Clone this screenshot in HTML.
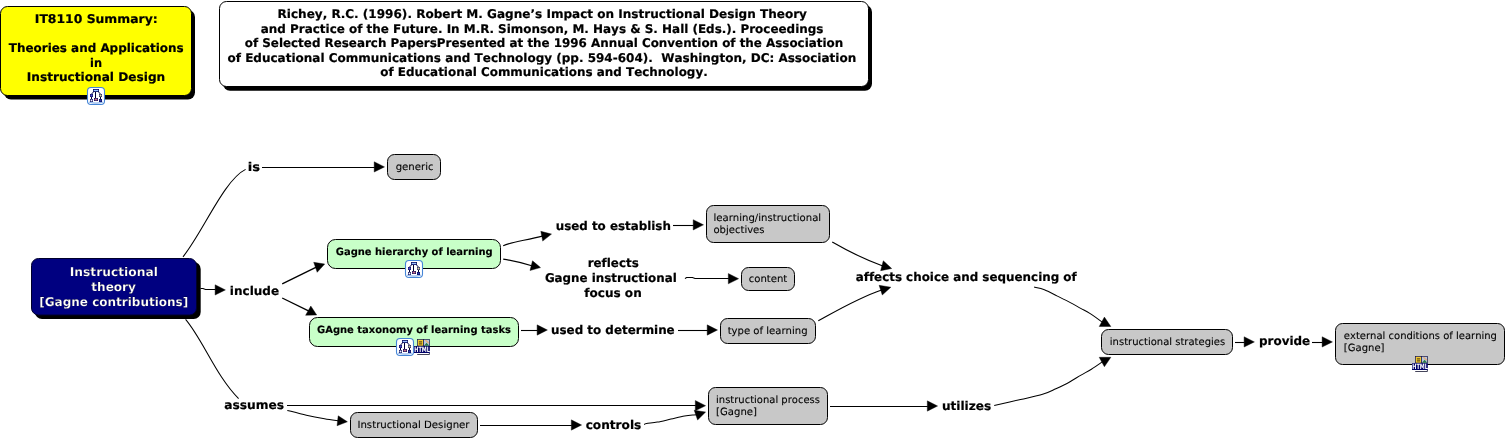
<!DOCTYPE html>
<html lang="en">
<head>
<meta charset="utf-8">
<title>IT8110 Summary: Theories and Applications in Instructional Design</title>
<style>
html,body{margin:0;padding:0;background:#fff;}
body{width:1506px;height:440px;overflow:hidden;}
svg{will-change:transform;display:block;position:absolute;left:0;top:0;}
text{text-rendering:geometricPrecision;font-family:"DejaVu Sans", "Liberation Sans", Verdana, sans-serif;white-space:pre;font-variant-ligatures:none;font-feature-settings:"liga" 0,"clig" 0;font-kerning:none;}
.b12{font-size:12px;font-weight:bold;stroke:#000;stroke-width:0.2px;}
.b10{font-size:10px;font-weight:bold;stroke:#000;stroke-width:0.15px;}
.r10{font-size:10px;font-weight:normal;stroke:#000;stroke-width:0.1px;}
.ic{font-size:7.2px;font-weight:bold;fill:#fff;}
.ln{fill:none;stroke:#000;stroke-width:1.05;}
.la{fill:none;stroke:#000;stroke-width:1.12;stroke-linejoin:round;}
.lb{fill:none;stroke:#000;stroke-width:1.35;stroke-linejoin:round;}
.hl{fill:none;stroke:#000;stroke-width:1.1;}
.ah{fill:#000;stroke:#000;stroke-width:0.4;stroke-linejoin:round;}
</style>
</head>
<body>
<svg width="1506" height="440" viewBox="0 0 1506 440">
<path d="M183,256.8 C203,232 224,180 245.6,169.4" class="ln"/>
<polygon points="384.50,166.90 374.20,161.75 374.20,172.05" class="ah"/>
<path d="M262.00,167.50 L374.70,167.50" class="hl"/>
<polygon points="225.40,289.90 215.10,284.75 215.10,295.05" class="ah"/>
<path d="M200.5,288.5 L203,288.5 L205.5,289.5 L215.60,289.50" class="hl"/>
<path d="M282.20,283.90 L316.84,266.81" class="lb"/>
<polygon points="324.70,264.00 313.70,262.30 317.20,272.30" class="ah"/>
<path d="M282.20,298.00 L309.48,311.30" class="lb"/>
<polygon points="316.70,315.00 310.80,306.00 305.60,315.30" class="ah"/>
<path d="M503.20,245.70 C511.00,242.00 525.00,240.50 543.21,235.86" class="la"/>
<polygon points="551.50,234.10 540.80,231.25 542.70,241.10" class="ah"/>
<path d="M503.20,259.10 C512.00,260.50 522.00,262.80 532.64,265.94" class="la"/>
<polygon points="540.50,267.60 532.50,260.80 530.00,270.50" class="ah"/>
<polygon points="703.50,224.85 693.20,219.70 693.20,230.00" class="ah"/>
<path d="M673.00,225.50 L693.70,225.50" class="hl"/>
<polygon points="738.60,278.70 728.30,273.55 728.30,283.85" class="ah"/>
<path d="M685,278.6 L686.5,277.5 L692.5,277.5 L695,278.5 L728.80,278.50" class="hl"/>
<polygon points="547.40,330.00 537.10,324.85 537.10,335.15" class="ah"/>
<path d="M521.00,330.50 L537.60,330.50" class="hl"/>
<polygon points="717.50,330.00 707.20,324.85 707.20,335.15" class="ah"/>
<path d="M678.00,330.50 L707.70,330.50" class="hl"/>
<path d="M832.25,242.10 C845.00,249.50 865.00,259.50 883.41,266.16" class="la"/>
<polygon points="891.70,268.50 883.30,260.80 880.60,270.70" class="ah"/>
<path d="M818.30,320.80 C838.00,310.00 858.00,298.00 882.22,289.71" class="la"/>
<polygon points="890.85,287.20 879.10,285.30 882.30,295.00" class="ah"/>
<path d="M1034.10,287.10 C1035.82,287.53 1040.52,288.20 1044.40,289.70 C1048.28,291.20 1053.08,293.95 1057.40,296.10 C1061.72,298.25 1066.42,300.55 1070.30,302.60 C1074.18,304.65 1077.45,306.60 1080.70,308.40 C1083.95,310.20 1086.17,311.08 1089.80,313.40 C1093.43,315.72 1100.38,320.82 1102.50,322.30" class="ln"/>
<polygon points="1110.85,326.50 1104.40,317.10 1099.20,326.50" class="ah"/>
<path d="M994.20,405.40 C998.58,404.42 1012.43,401.35 1020.50,399.50 C1028.57,397.65 1036.70,396.10 1042.60,394.30 C1048.50,392.50 1051.47,390.72 1055.90,388.70 C1060.33,386.68 1065.02,384.47 1069.20,382.20 C1073.38,379.93 1077.30,377.27 1081.00,375.10 C1084.70,372.93 1087.80,371.45 1091.40,369.20 C1095.00,366.95 1100.73,362.87 1102.60,361.60" class="ln"/>
<polygon points="1110.85,357.30 1099.20,357.30 1104.40,366.75" class="ah"/>
<polygon points="1254.40,341.90 1244.10,336.75 1244.10,347.05" class="ah"/>
<path d="M1235.00,342.50 L1244.60,342.50" class="hl"/>
<polygon points="1332.45,341.90 1322.15,336.75 1322.15,347.05" class="ah"/>
<path d="M1312.00,342.50 L1322.65,342.50" class="hl"/>
<path d="M185.6,319.4 C203,340 216,376 238.6,398.6" class="ln"/>
<polygon points="705.60,405.70 695.30,400.55 695.30,410.85" class="ah"/>
<path d="M287.00,405.50 L695.80,405.50" class="hl"/>
<path d="M287.30,410.40 C290.48,411.20 300.20,413.80 306.40,415.20 C312.60,416.60 319.07,417.83 324.50,418.80 C329.93,419.77 336.58,420.63 339.00,421.00" class="ln"/>
<polygon points="347.40,421.75 338.20,415.80 337.05,425.75" class="ah"/>
<polygon points="581.60,425.00 571.30,419.85 571.30,430.15" class="ah"/>
<path d="M480.00,425.50 L571.80,425.50" class="hl"/>
<path d="M644.10,424.50 C644.50,424.33 644.30,423.90 646.50,423.50 C648.70,423.10 653.23,422.83 657.30,422.10 C661.37,421.37 666.37,420.10 670.90,419.10 C675.43,418.10 680.72,416.80 684.50,416.10 C688.28,415.40 691.43,415.13 693.60,414.90 C695.77,414.67 696.85,414.73 697.50,414.70" class="ln"/>
<polygon points="705.60,412.05 694.20,410.20 697.60,420.00" class="ah"/>
<polygon points="937.60,406.00 927.30,400.85 927.30,411.15" class="ah"/>
<path d="M830.00,406.50 L927.80,406.50" class="hl"/>
<rect x="4.00" y="10.00" width="191.00" height="89.60" rx="7" ry="7" fill="#000"/>
<rect x="0.50" y="6.50" width="191.00" height="89.00" rx="7" ry="7" fill="#ffff00" stroke="#000" stroke-width="1"/>
<rect x="223.00" y="5.00" width="649.00" height="85.70" rx="7" ry="7" fill="#000"/>
<rect x="219.50" y="1.50" width="649.00" height="85.00" rx="7" ry="7" fill="#ffffff" stroke="#000" stroke-width="1"/>
<rect x="35.00" y="262.00" width="165.70" height="57.00" rx="7" ry="7" fill="#000"/>
<rect x="31.50" y="258.50" width="165.00" height="56.50" rx="7" ry="7" fill="#000080" stroke="#00002c" stroke-width="1"/>
<rect x="327.50" y="239.50" width="173.00" height="29.00" rx="8" ry="8" fill="#c8ffc8" stroke="#000" stroke-width="1"/>
<rect x="309.50" y="317.50" width="209.00" height="29.00" rx="8" ry="8" fill="#c8ffc8" stroke="#000" stroke-width="1"/>
<rect x="387.50" y="154.50" width="53.00" height="25.00" rx="7" ry="7" fill="#c8c8c8" stroke="#000" stroke-width="1"/>
<rect x="706.50" y="205.50" width="123.00" height="37.00" rx="7" ry="7" fill="#c8c8c8" stroke="#000" stroke-width="1"/>
<rect x="741.50" y="267.50" width="53.00" height="23.00" rx="7" ry="7" fill="#c8c8c8" stroke="#000" stroke-width="1"/>
<rect x="720.50" y="318.50" width="95.00" height="25.00" rx="7" ry="7" fill="#c8c8c8" stroke="#000" stroke-width="1"/>
<rect x="1101.50" y="329.50" width="131.00" height="25.00" rx="7" ry="7" fill="#c8c8c8" stroke="#000" stroke-width="1"/>
<rect x="1335.50" y="323.50" width="169.00" height="41.00" rx="7" ry="7" fill="#c8c8c8" stroke="#000" stroke-width="1"/>
<rect x="350.50" y="412.50" width="127.00" height="25.00" rx="7" ry="7" fill="#c8c8c8" stroke="#000" stroke-width="1"/>
<rect x="708.50" y="387.50" width="119.00" height="37.00" rx="7" ry="7" fill="#c8c8c8" stroke="#000" stroke-width="1"/>
<g transform="translate(87.00,87.00)"><rect x="0.5" y="0.5" width="17" height="17" rx="3.5" ry="3.5" fill="#fff" stroke="#4585d6" stroke-width="1.1"/><path d="M2.2,15.2 Q9,17.2 15.8,15.2" fill="none" stroke="#8cb4ec" stroke-width="1.2"/><rect x="6" y="2" width="6" height="3" fill="#0a0a5a"/><rect x="6.7" y="2.8" width="4.6" height="1.4" fill="#9cc4ff"/><rect x="8" y="5" width="1" height="7" fill="#000030"/><path d="M6.6,4.8 L4.4,7.2 M11.4,4.8 L13.6,7.2" stroke="#000040" stroke-width="1" fill="none"/><rect x="3" y="7" width="3" height="3" fill="#0a0a5a"/><rect x="3.5" y="7.5" width="2" height="2" fill="#5454cc"/><rect x="12" y="7" width="3" height="3" fill="#0a0a5a"/><rect x="12.5" y="7.5" width="2" height="2" fill="#dcdc9c"/><rect x="4" y="10" width="1" height="2" fill="#000030"/><rect x="13" y="10" width="1" height="2" fill="#000030"/><rect x="3" y="12" width="3" height="3" fill="#0a0a5a"/><rect x="3.6" y="12.6" width="1.8" height="1.8" fill="#f4f4ff"/><rect x="7" y="11" width="4" height="3" fill="#0a0a5a"/><rect x="7.6" y="11.6" width="2.8" height="1.8" fill="#c87088"/><rect x="12" y="12" width="3" height="3" fill="#0a0a5a"/><rect x="12.6" y="12.6" width="1.8" height="1.8" fill="#2c3cb0"/></g>
<g transform="translate(405.00,260.00)"><rect x="0.5" y="0.5" width="17" height="17" rx="3.5" ry="3.5" fill="#fff" stroke="#4585d6" stroke-width="1.1"/><path d="M2.2,15.2 Q9,17.2 15.8,15.2" fill="none" stroke="#8cb4ec" stroke-width="1.2"/><rect x="6" y="2" width="6" height="3" fill="#0a0a5a"/><rect x="6.7" y="2.8" width="4.6" height="1.4" fill="#9cc4ff"/><rect x="8" y="5" width="1" height="7" fill="#000030"/><path d="M6.6,4.8 L4.4,7.2 M11.4,4.8 L13.6,7.2" stroke="#000040" stroke-width="1" fill="none"/><rect x="3" y="7" width="3" height="3" fill="#0a0a5a"/><rect x="3.5" y="7.5" width="2" height="2" fill="#5454cc"/><rect x="12" y="7" width="3" height="3" fill="#0a0a5a"/><rect x="12.5" y="7.5" width="2" height="2" fill="#dcdc9c"/><rect x="4" y="10" width="1" height="2" fill="#000030"/><rect x="13" y="10" width="1" height="2" fill="#000030"/><rect x="3" y="12" width="3" height="3" fill="#0a0a5a"/><rect x="3.6" y="12.6" width="1.8" height="1.8" fill="#f4f4ff"/><rect x="7" y="11" width="4" height="3" fill="#0a0a5a"/><rect x="7.6" y="11.6" width="2.8" height="1.8" fill="#c87088"/><rect x="12" y="12" width="3" height="3" fill="#0a0a5a"/><rect x="12.6" y="12.6" width="1.8" height="1.8" fill="#2c3cb0"/></g>
<g transform="translate(396.00,338.00)"><rect x="0.5" y="0.5" width="17" height="17" rx="3.5" ry="3.5" fill="#fff" stroke="#4585d6" stroke-width="1.1"/><path d="M2.2,15.2 Q9,17.2 15.8,15.2" fill="none" stroke="#8cb4ec" stroke-width="1.2"/><rect x="6" y="2" width="6" height="3" fill="#0a0a5a"/><rect x="6.7" y="2.8" width="4.6" height="1.4" fill="#9cc4ff"/><rect x="8" y="5" width="1" height="7" fill="#000030"/><path d="M6.6,4.8 L4.4,7.2 M11.4,4.8 L13.6,7.2" stroke="#000040" stroke-width="1" fill="none"/><rect x="3" y="7" width="3" height="3" fill="#0a0a5a"/><rect x="3.5" y="7.5" width="2" height="2" fill="#5454cc"/><rect x="12" y="7" width="3" height="3" fill="#0a0a5a"/><rect x="12.5" y="7.5" width="2" height="2" fill="#dcdc9c"/><rect x="4" y="10" width="1" height="2" fill="#000030"/><rect x="13" y="10" width="1" height="2" fill="#000030"/><rect x="3" y="12" width="3" height="3" fill="#0a0a5a"/><rect x="3.6" y="12.6" width="1.8" height="1.8" fill="#f4f4ff"/><rect x="7" y="11" width="4" height="3" fill="#0a0a5a"/><rect x="7.6" y="11.6" width="2.8" height="1.8" fill="#c87088"/><rect x="12" y="12" width="3" height="3" fill="#0a0a5a"/><rect x="12.6" y="12.6" width="1.8" height="1.8" fill="#2c3cb0"/></g>
<g transform="translate(414.00,339.00)"><rect x="3.5" y="0.5" width="6" height="6.5" fill="#f8cc30" stroke="#141448" stroke-width="0.7"/><rect x="4.9" y="2.4" width="3.2" height="1" fill="#3c3010"/><rect x="4.9" y="4.4" width="3.2" height="1" fill="#3c3010"/><rect x="9.5" y="0.5" width="6" height="6.5" fill="#b8c8dc" stroke="#141448" stroke-width="0.7"/><path d="M10,6.8 L12.6,3.8 L15.2,6.8 Z" fill="#2a7a4a"/><path d="M11.4,1.2 L14.6,4" stroke="#f0a868" stroke-width="1.1"/><rect x="0" y="7.2" width="15.8" height="6.8" fill="#000068"/><text x="0.3" y="13.2" class="ic" textLength="15.6" lengthAdjust="spacingAndGlyphs">HTML</text><path d="M3.2,15.5 H15.4 V14" fill="none" stroke="#141430" stroke-width="0.8"/></g>
<g transform="translate(1412.00,356.00)"><rect x="3.5" y="0.5" width="6" height="6.5" fill="#f8cc30" stroke="#141448" stroke-width="0.7"/><rect x="4.9" y="2.4" width="3.2" height="1" fill="#3c3010"/><rect x="4.9" y="4.4" width="3.2" height="1" fill="#3c3010"/><rect x="9.5" y="0.5" width="6" height="6.5" fill="#b8c8dc" stroke="#141448" stroke-width="0.7"/><path d="M10,6.8 L12.6,3.8 L15.2,6.8 Z" fill="#2a7a4a"/><path d="M11.4,1.2 L14.6,4" stroke="#f0a868" stroke-width="1.1"/><rect x="0" y="7.2" width="15.8" height="6.8" fill="#000068"/><text x="0.3" y="13.2" class="ic" textLength="15.6" lengthAdjust="spacingAndGlyphs">HTML</text><path d="M3.2,15.5 H15.4 V14" fill="none" stroke="#141430" stroke-width="0.8"/></g>
<text class="b12" x="34.78" y="23.00" textLength="122.94" lengthAdjust="spacingAndGlyphs">IT8110 Summary:</text>
<text class="b12" x="8.78" y="52.00" textLength="174.94" lengthAdjust="spacingAndGlyphs">Theories and Applications</text>
<text class="b12" x="90.03" y="67.00" textLength="11.94" lengthAdjust="spacingAndGlyphs">in</text>
<text class="b12" x="26.78" y="81.20" textLength="138.44" lengthAdjust="spacingAndGlyphs">Instructional Design</text>
<text class="b12" x="277.53" y="18.25" textLength="529.44" lengthAdjust="spacingAndGlyphs">Richey, R.C. (1996). Robert M. Gagne’s Impact on Instructional Design Theory</text>
<text class="b12" x="260.78" y="32.75" textLength="562.69" lengthAdjust="spacingAndGlyphs">and Practice of the Future. In M.R. Simonson, M. Hays &amp; S. Hall (Eds.). Proceedings</text>
<text class="b12" x="244.78" y="47.25" textLength="598.44" lengthAdjust="spacingAndGlyphs">of Selected Research PapersPresented at the 1996 Annual Convention of the Association</text>
<text class="b12" x="227.53" y="61.80" textLength="628.69" lengthAdjust="spacingAndGlyphs">of Educational Communications and Technology (pp. 594-604).  Washington, DC: Association</text>
<text class="b12" x="380.28" y="76.30" textLength="327.44" lengthAdjust="spacingAndGlyphs">of Educational Communications and Technology.</text>
<text class="b12" x="69.78" y="276.25" textLength="88.19" lengthAdjust="spacingAndGlyphs" fill="#fff" stroke="#fff">Instructional</text>
<text class="b12" x="91.28" y="290.75" textLength="44.69" lengthAdjust="spacingAndGlyphs" fill="#fff" stroke="#fff">theory</text>
<text class="b12" x="39.28" y="305.50" textLength="148.94" lengthAdjust="spacingAndGlyphs" fill="#fff" stroke="#fff">[Gagne contributions]</text>
<text class="b12" x="247.68" y="171.20" textLength="12.24" lengthAdjust="spacingAndGlyphs">is</text>
<text class="b12" x="229.88" y="295.00" textLength="49.24" lengthAdjust="spacingAndGlyphs">include</text>
<text class="b12" x="555.68" y="230.00" textLength="115.24" lengthAdjust="spacingAndGlyphs">used to establish</text>
<text class="b12" x="587.68" y="266.60" textLength="51.04" lengthAdjust="spacingAndGlyphs">reflects</text>
<text class="b12" x="544.88" y="281.60" textLength="131.84" lengthAdjust="spacingAndGlyphs">Gagne instructional</text>
<text class="b12" x="584.28" y="296.60" textLength="57.44" lengthAdjust="spacingAndGlyphs">focus on</text>
<text class="b12" x="550.98" y="334.00" textLength="123.74" lengthAdjust="spacingAndGlyphs">used to determine</text>
<text class="b12" x="855.68" y="281.00" textLength="221.04" lengthAdjust="spacingAndGlyphs">affects choice and sequencing of</text>
<text class="b12" x="1258.98" y="345.00" textLength="51.24" lengthAdjust="spacingAndGlyphs">provide</text>
<text class="b12" x="224.28" y="409.00" textLength="59.84" lengthAdjust="spacingAndGlyphs">assumes</text>
<text class="b12" x="585.68" y="429.00" textLength="55.64" lengthAdjust="spacingAndGlyphs">controls</text>
<text class="b12" x="941.88" y="410.00" textLength="49.24" lengthAdjust="spacingAndGlyphs">utilizes</text>
<text class="b10" x="335.80" y="254.60" textLength="156.80" lengthAdjust="spacingAndGlyphs">Gagne hierarchy of learning</text>
<text class="b10" x="317.00" y="333.00" textLength="194.00" lengthAdjust="spacingAndGlyphs">GAgne taxonomy of learning tasks</text>
<text class="r10" x="395.65" y="169.70" textLength="37.90" lengthAdjust="spacingAndGlyphs">generic</text>
<text class="r10" x="713.45" y="220.60" textLength="107.70" lengthAdjust="spacingAndGlyphs">learning/instructional</text>
<text class="r10" x="713.45" y="232.60" textLength="51.10" lengthAdjust="spacingAndGlyphs">objectives</text>
<text class="r10" x="748.65" y="281.80" textLength="38.70" lengthAdjust="spacingAndGlyphs">content</text>
<text class="r10" x="727.65" y="333.70" textLength="79.90" lengthAdjust="spacingAndGlyphs">type of learning</text>
<text class="r10" x="1109.85" y="344.60" textLength="115.30" lengthAdjust="spacingAndGlyphs">instructional strategies</text>
<text class="r10" x="1343.85" y="338.60" textLength="153.10" lengthAdjust="spacingAndGlyphs">external conditions of learning</text>
<text class="r10" x="1343.85" y="350.60" textLength="40.70" lengthAdjust="spacingAndGlyphs">[Gagne]</text>
<text class="r10" x="357.45" y="428.00" textLength="112.10" lengthAdjust="spacingAndGlyphs">Instructional Designer</text>
<text class="r10" x="716.05" y="403.00" textLength="103.90" lengthAdjust="spacingAndGlyphs">instructional process</text>
<text class="r10" x="716.05" y="415.00" textLength="40.90" lengthAdjust="spacingAndGlyphs">[Gagne]</text>
</svg>
</body>
</html>
